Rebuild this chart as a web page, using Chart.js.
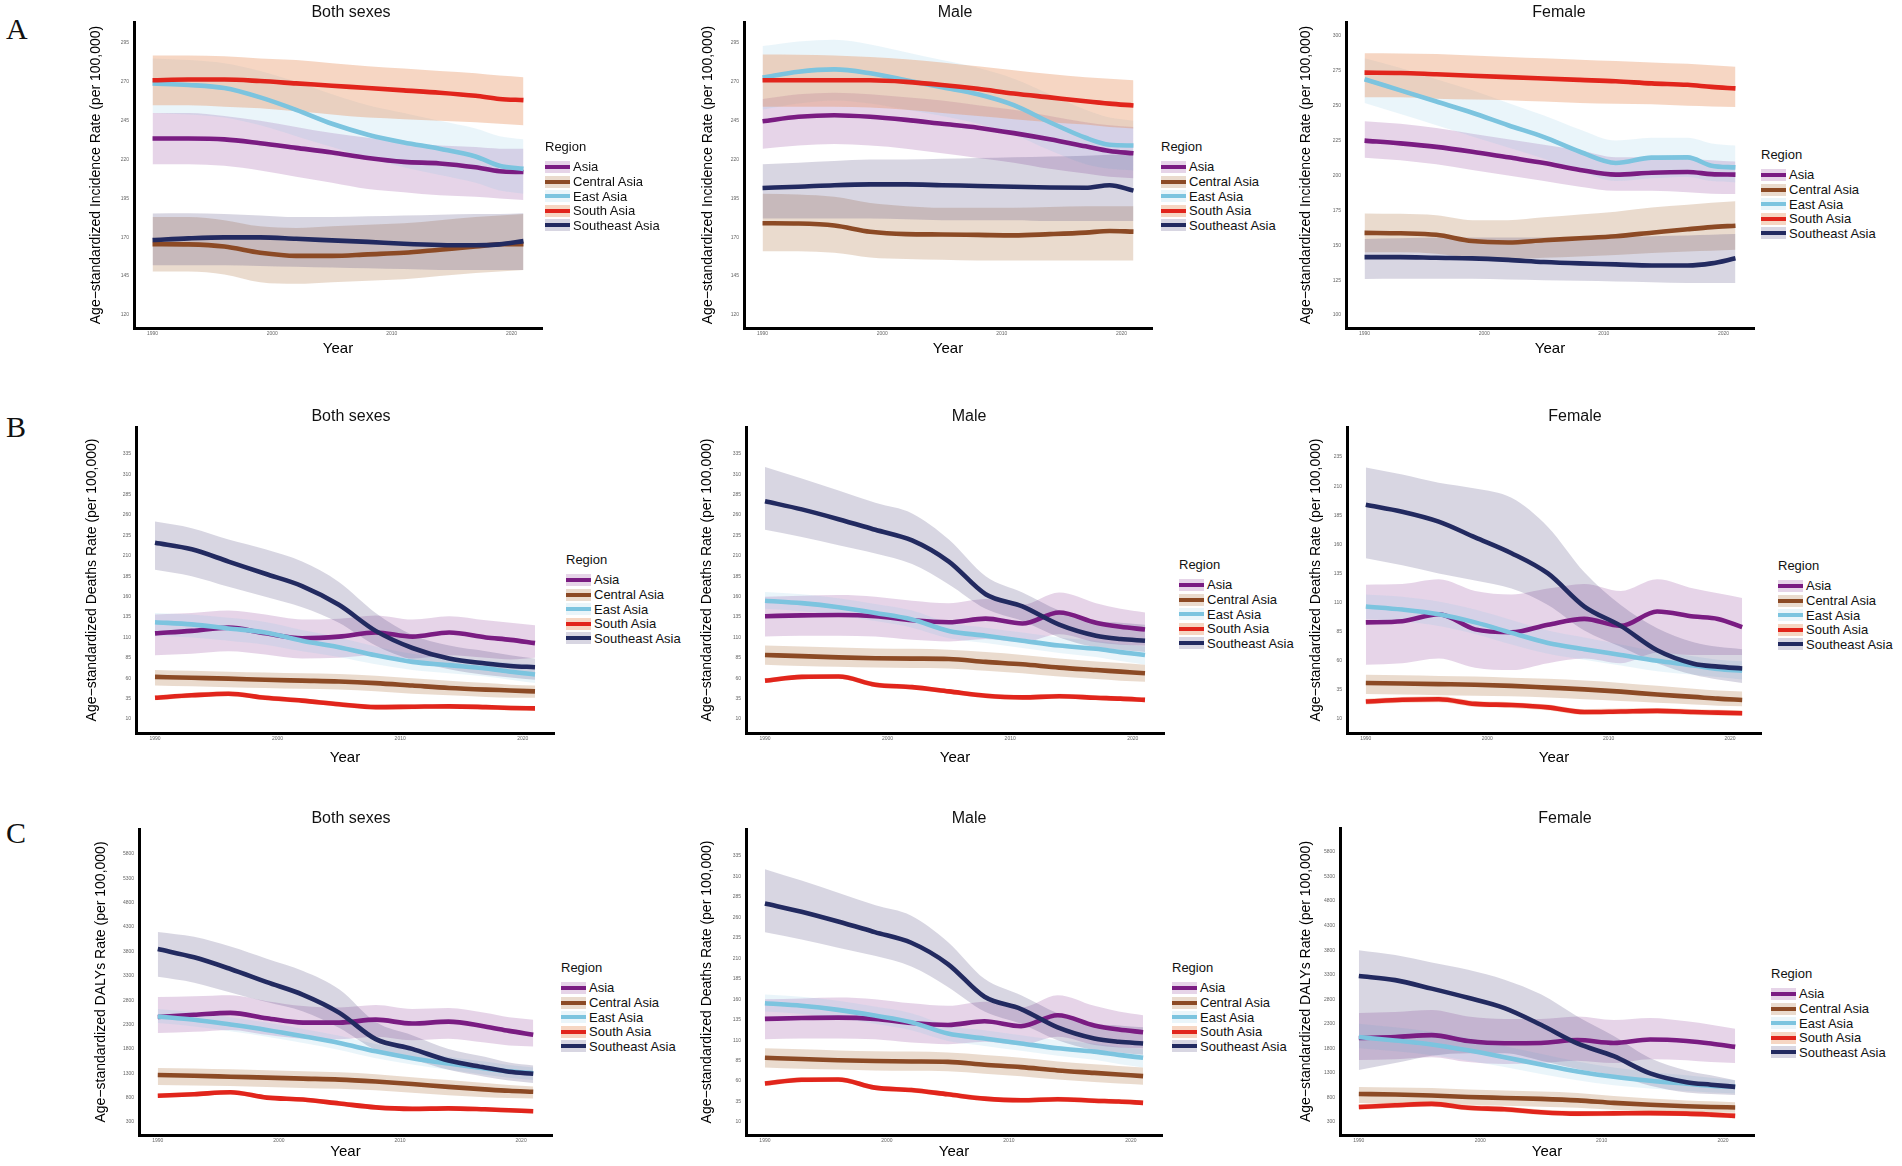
<!DOCTYPE html>
<html lang="en">
<head>
<meta charset="UTF-8">
<title>Age-standardized rates by region, Asia 1990-2021</title>
<script src="https://cdn.jsdelivr.net/npm/chart.js@4"></script>
<style>
    body { margin: 0; background: #fff; font-family: "Liberation Sans", Arial, sans-serif; }
    #page { position: relative; width: 1902px; height: 1166px; overflow: hidden; }
    .panel { position: absolute; }
    .letter { position: absolute; font-family: "Liberation Serif", serif; font-size: 30px; line-height: 30px; color: #111; }
    .ptitle { position: absolute; font-size: 16px; line-height: 18px; transform: translateX(-50%); white-space: nowrap; color: #111; }
    .legend { position: absolute; font-size: 13px; color: #111; }
    .legend .lt { line-height: 16px; margin-bottom: 4.7px; }
    .legend .item { display: flex; align-items: center; height: 14.6px; white-space: nowrap; }
    .legend .key { position: relative; width: 25px; height: 12px; margin-right: 3px; }
    .legend .key i { position: absolute; left: 0; right: 0; top: 4px; height: 4px; }
</style>
</head>
<body>
<div id="page"></div>
<script>
// ---- data ----
const REGIONS = ['Asia', 'Central Asia', 'East Asia', 'South Asia', 'Southeast Asia'];
const YEARS = [1990, 1993, 1996, 1999, 2002, 2005, 2008, 2011, 2014, 2017, 2019, 2021];
const X_TICKS = [1990, 2000, 2010, 2020];

const INC_TICKS = [120, 145, 170, 195, 220, 245, 270, 295];
const INC_F_TICKS = [100, 125, 150, 175, 200, 225, 250, 275, 300];
const DEATH_TICKS = [10, 35, 60, 85, 110, 135, 160, 185, 210, 235, 260, 285, 310, 335];
const DEATH_F_TICKS = [10, 35, 60, 85, 110, 135, 160, 185, 210, 235];
const DALY_TICKS = [300, 800, 1300, 1800, 2300, 2800, 3300, 3800, 4300, 4800, 5300, 5800];

// rows follow REGIONS order
const incBothMid = [
    [233.5, 233.5, 233, 230.5, 227.5, 224.5, 221, 218.5, 217.5, 215, 212.5, 212],
    [165.6, 165.4, 164, 160, 158, 158, 159, 160, 162, 164, 165.5, 165.6],
    [268.9, 268, 266, 260, 252, 243, 236, 231, 227, 222, 216, 214],
    [271, 271.5, 271.5, 270.5, 269, 267.5, 266, 264.5, 263, 261, 259, 258.2],
    [168.2, 169.3, 169.9, 169.9, 169, 168, 167, 165.8, 165, 164.8, 165.4, 167.5]
];
const incBothLo = [
    [217, 217, 216, 213, 209, 205, 201, 199, 197, 196, 195, 194],
    [148, 148, 146, 141, 140, 141, 142, 143, 145, 147, 148, 149],
    [250, 249, 247, 242, 235, 228, 221, 215, 210, 205, 200, 198],
    [255, 255, 254, 253, 251, 249, 247, 246, 245, 244, 243, 242],
    [152, 152, 152, 151.5, 151, 150.5, 150, 149.5, 149, 149, 149, 149]
];
const incBothHi = [
    [250, 250, 248, 245, 241, 237, 234, 231, 229, 228, 227, 227],
    [183, 183, 181, 177, 176, 177, 178, 179, 181, 183, 184, 185],
    [285, 284, 282, 277, 270, 262, 255, 250, 245, 240, 235, 233],
    [287, 287, 286.5, 285, 284, 282, 280, 278.5, 277, 275.5, 274, 273],
    [185.3, 185.5, 185, 184, 183, 183, 183.5, 184, 184.5, 185, 185, 185.5]
];

const incMaleMid = [
    [244.6, 247.5, 248.5, 247.5, 245.5, 243, 240.5, 237, 233, 228.5, 225.5, 224],
    [179, 178.8, 177.5, 173.5, 172, 171.8, 171.5, 171.2, 172, 173, 174, 173.6],
    [272.7, 276.5, 278, 275.5, 271, 266.5, 262, 255, 244, 234, 229.5, 229],
    [271, 271, 271, 271, 270, 268, 265.5, 262.5, 260, 257.5, 256, 254.8],
    [201.7, 202.5, 203.5, 204, 204, 203.5, 203, 202.5, 202, 201.8, 203.5, 200]
];
const incMaleLo = [
    [227, 229, 230, 229, 227, 224, 221, 218, 214, 211, 209, 208],
    [161, 161, 160, 157, 156, 155.5, 155, 155, 155, 155, 155, 155],
    [252, 256, 258, 256, 252, 248, 243, 236, 226, 217, 214, 213],
    [254, 254, 254, 253.5, 252, 250, 248, 246, 244, 242.5, 241, 240],
    [182, 182, 182, 182, 181.5, 181, 181, 181, 180.5, 180.5, 180.5, 180.5]
];
const incMaleHi = [
    [259, 262, 263, 262, 260, 258, 255, 252, 248, 244, 242, 241],
    [198, 197.5, 196, 192, 190, 189, 189, 189, 189.5, 190, 190, 190],
    [293, 296, 297, 294, 289, 284, 279, 272, 262, 252, 247, 245],
    [287.6, 287.5, 287, 286, 284.5, 282.5, 280, 277.5, 275, 273, 272, 271],
    [217, 218, 219, 220, 220, 220.5, 221, 221.5, 222, 222.5, 223, 223.6]
];

const incFemMid = [
    [225, 223, 220.5, 217, 213, 209, 204, 200.6, 202, 202.5, 201, 200.6],
    [158.9, 158.6, 157.5, 153, 152, 153.6, 155, 156.5, 159, 161.5, 163, 164],
    [269, 261, 253, 245, 236, 227.5, 217, 209, 212.8, 213, 207, 205.8],
    [273.7, 273.5, 272.5, 271.5, 270.5, 269.5, 268.5, 267.5, 266, 265, 263.5, 262.4],
    [141.5, 141.5, 141, 140.6, 139.5, 138, 137, 136.3, 135.5, 135.5, 137, 140.6]
];
const incFemLo = [
    [212.8, 211, 208, 204, 200, 196, 192, 189, 189, 188, 187, 186.7],
    [145, 145, 144, 141, 140, 141, 142, 143, 144.5, 145.5, 146, 146.7],
    [252, 244, 236, 228, 220, 212, 203, 196, 198, 199, 196, 195],
    [256, 256, 255, 254.5, 254, 253, 252, 251.5, 251, 250, 249.5, 249],
    [125.8, 126, 126, 126, 125.5, 125, 124.5, 124, 123.5, 123, 123, 123]
];
const incFemHi = [
    [238.9, 237, 234, 230, 226, 222, 218, 213, 213, 212, 211, 210],
    [172.8, 172.5, 171.5, 168, 168, 170, 172, 174, 177, 179, 180.5, 181.5],
    [284, 277, 269, 261, 252, 243, 233, 225, 227, 227, 223, 221.5],
    [287.6, 287.5, 287, 286, 285, 284, 283, 282, 281, 280, 279, 278],
    [154.5, 155, 155.5, 155.5, 155.5, 155.5, 156, 156, 156.5, 157, 157.5, 158]
];

const deathBothMid = [
    [115, 118, 122, 115, 109, 111, 116, 111, 116, 110, 107, 103],
    [61.6, 60.5, 59.5, 58, 57, 56, 54, 51, 48, 46, 45, 43.8],
    [128.6, 126, 121, 116, 106, 98, 88, 80, 76, 72, 68, 64.6],
    [36, 39, 41, 36, 32.5, 28, 24.5, 25, 25.5, 24.5, 23.5, 23],
    [226, 218, 203, 188, 173, 150, 118, 97, 84, 78, 75, 73.5]
];
const deathBothLo = [
    [88, 90, 93, 89, 84, 85, 88, 84, 88, 85, 83, 85],
    [51, 50, 49, 48, 47, 46, 44, 41, 39, 37, 36, 36],
    [112, 110, 106, 101, 93, 86, 77, 70, 66, 62, 58, 54],
    [33, 36, 38, 33, 29.5, 25, 21.5, 22, 22.5, 21.5, 20.5, 20],
    [193, 185, 172, 160, 147, 128, 100, 82, 71, 64, 61, 58]
];
const deathBothHi = [
    [138, 140, 143, 138, 132, 133, 137, 132, 136, 131, 128, 125],
    [70, 69, 68, 67, 66, 65, 63, 60, 57, 54, 52, 51],
    [140, 138, 134, 129, 119, 110, 99, 90, 85, 81, 79, 76.5],
    [39, 42, 44, 39, 35.5, 31, 27.5, 28, 28.5, 27.5, 26.5, 26],
    [252, 244, 230, 218, 203, 178, 140, 113, 100, 93, 88, 84]
];

const deathMaleMid = [
    [136, 137, 137.5, 136, 131, 128.6, 133, 127, 140.5, 128, 123, 119.7],
    [88.4, 87, 85.5, 84.5, 84, 83.5, 80, 77, 73, 70, 68, 66],
    [155, 152, 147, 140, 132, 118, 112, 106, 100, 96, 92, 88.4],
    [57, 61.6, 62, 52, 49, 43.8, 38.5, 36.5, 37.8, 36, 35, 33.4],
    [277, 267, 255, 242, 229, 203, 163, 148, 125.6, 112, 108, 106]
];
const deathMaleLo = [
    [111, 112, 112, 111, 107, 105, 108, 104, 114, 104, 101, 100],
    [76.5, 75, 74, 73, 72.5, 72, 69, 66, 62, 59, 57, 55.6],
    [145, 142, 137, 130, 122, 109, 103, 97, 91, 86, 81, 76.5],
    [54, 58.6, 59, 49, 46, 40.8, 35.5, 33.5, 34.8, 33, 32, 30.4],
    [242, 233, 223, 213, 200, 175, 145, 130, 110, 98, 95, 92]
];
const deathMaleHi = [
    [160, 161, 162, 160, 155, 152, 157, 150, 165, 152, 145, 140.5],
    [100, 99, 97.5, 96.5, 96, 95, 92, 88.5, 84, 80.5, 78.5, 76.5],
    [165.8, 163, 158, 151, 143, 128, 122, 116, 110, 106, 102, 98.8],
    [60, 64.6, 65, 55, 52, 46.8, 41.5, 39.5, 40.8, 39, 38, 36.4],
    [319, 305, 290, 275, 262, 230, 185, 165, 143, 130, 128, 125.6]
];

const deathFemMid = [
    [93, 94, 100, 87, 84.5, 91, 96, 90, 102.4, 98, 96, 88.9],
    [41, 40.5, 40, 39.5, 38.5, 37, 35.5, 33.5, 31, 29, 27.5, 26.4],
    [106.6, 104, 100, 93, 84, 75.3, 70, 65, 60, 56, 53, 51.4],
    [25, 26.5, 27, 23, 22, 20, 16, 16.5, 17, 16, 15.5, 15],
    [194, 188, 179.5, 166, 152.4, 135, 106.6, 90, 69, 57.5, 55, 53.4]
];
const deathFemLo = [
    [56.6, 58, 62, 54, 52, 58, 62, 58, 67, 65, 65, 65],
    [31.5, 31, 30.5, 30, 29.5, 28.5, 27, 25.5, 24, 22.5, 21.5, 21],
    [96, 94, 90, 83, 74, 66, 61, 56, 51, 48, 46, 44],
    [22.5, 24, 24.5, 20.5, 19.5, 17.5, 13.5, 14, 14.5, 13.5, 13, 12.5],
    [148, 142, 135, 129, 122, 108, 86, 72, 58, 48, 44, 41]
];
const deathFemHi = [
    [125.4, 126, 130, 120, 117, 122, 126, 120, 130, 122, 118, 114],
    [48, 47.5, 47, 46.5, 45.5, 44.5, 43, 41, 38.5, 36, 34.5, 33.6],
    [117, 115, 111, 104, 95, 86, 80, 74, 68, 64, 61, 59.7],
    [27.5, 29, 29.5, 25.5, 24.5, 22.5, 18.5, 19, 19.5, 18.5, 18, 17.5],
    [226, 220, 213, 208, 200, 175, 136, 108, 88, 76, 72, 70]
];

const dalyBothMid = [
    [2455, 2500, 2540, 2430, 2340, 2340, 2400, 2320, 2360, 2260, 2170, 2090],
    [1264, 1250, 1230, 1210, 1190, 1170, 1130, 1080, 1020, 970, 940, 920],
    [2466, 2400, 2300, 2190, 2060, 1920, 1750, 1610, 1500, 1400, 1340, 1300],
    [840, 870, 910, 800, 760, 680, 600, 570, 580, 560, 540, 520],
    [3850, 3680, 3440, 3170, 2910, 2540, 2000, 1800, 1560, 1420, 1330, 1290]
];
const dalyBothLo = [
    [2126, 2150, 2190, 2090, 2010, 2000, 2050, 1980, 2010, 1930, 1870, 1850],
    [1060, 1050, 1040, 1020, 1000, 980, 950, 900, 850, 810, 790, 780],
    [2330, 2260, 2160, 2050, 1920, 1780, 1610, 1480, 1370, 1270, 1210, 1160],
    [795, 825, 865, 755, 715, 635, 555, 525, 535, 515, 495, 475],
    [3280, 3160, 2960, 2760, 2570, 2230, 1780, 1580, 1370, 1230, 1150, 1100]
];
const dalyBothHi = [
    [2865, 2880, 2900, 2780, 2680, 2650, 2700, 2620, 2640, 2540, 2450, 2400],
    [1408, 1400, 1380, 1360, 1340, 1320, 1280, 1220, 1160, 1100, 1060, 1030],
    [2620, 2550, 2450, 2340, 2210, 2070, 1900, 1760, 1640, 1540, 1470, 1420],
    [885, 915, 955, 845, 805, 725, 645, 615, 625, 605, 585, 565],
    [4200, 4100, 3900, 3650, 3400, 3020, 2350, 2080, 1800, 1640, 1520, 1460]
];

const dalyFemMid = [
    [2011, 2030, 2070, 1950, 1905, 1910, 1970, 1910, 1980, 1950, 1900, 1830],
    [870, 860, 840, 810, 790, 770, 740, 690, 650, 620, 605, 596],
    [2030, 1960, 1880, 1760, 1620, 1470, 1330, 1220, 1140, 1080, 1040, 1016],
    [605, 640, 670, 590, 560, 500, 470, 475, 480, 470, 450, 424],
    [3274, 3190, 3017, 2830, 2620, 2280, 1900, 1640, 1290, 1110, 1060, 1016]
];
const dalyFemLo = [
    [1563, 1580, 1620, 1520, 1480, 1500, 1550, 1500, 1580, 1560, 1520, 1500],
    [687, 680, 670, 650, 630, 610, 590, 550, 520, 500, 495, 490],
    [1800, 1740, 1660, 1550, 1420, 1280, 1150, 1050, 980, 930, 900, 880],
    [550, 585, 615, 535, 505, 445, 415, 420, 425, 415, 395, 370],
    [1360, 1500, 1650, 1700, 1700, 1550, 1380, 1250, 1040, 900, 870, 850]
];
const dalyFemHi = [
    [2520, 2540, 2580, 2450, 2400, 2400, 2450, 2380, 2420, 2350, 2280, 2200],
    [1013, 1005, 990, 960, 940, 920, 890, 830, 780, 740, 720, 700],
    [2300, 2230, 2140, 2010, 1850, 1690, 1530, 1410, 1320, 1250, 1200, 1150],
    [660, 695, 725, 645, 615, 555, 525, 530, 535, 525, 505, 480],
    [3800, 3700, 3550, 3400, 3200, 2900, 2450, 2050, 1600, 1350, 1250, 1150]
];

// ---- styles ----
const LINE_COLORS = ['#7a1c82', '#8c4a25', '#7cc4df', '#e1251c', '#222a60'];
const BAND_COLORS = ['rgba(140,60,150,0.22)', 'rgba(170,110,60,0.25)', 'rgba(130,195,225,0.17)',
                     'rgba(230,140,90,0.36)', 'rgba(60,50,110,0.20)'];

const INC_T = 'Age\u2212standardized Incidence Rate (per 100,000)';
const DEATH_T = 'Age\u2212standardized Deaths Rate (per 100,000)';
const DALY_T = 'Age\u2212standardized DALYs Rate (per 100,000)';

// box = [plot left, plot top, plot right, plot bottom]
const PANELS = [
    { title: 'Both sexes', ytitle: INC_T, mid: incBothMid, lo: incBothLo, hi: incBothHi, ticks: INC_TICKS,
      ymin: 111.6, ymax: 308.5, box: [134, 22, 542, 328], ytx: 96, yearY: 349, tx: 351, ty: 12, leg: [545, 147] },
    { title: 'Male', ytitle: INC_T, mid: incMaleMid, lo: incMaleLo, hi: incMaleHi, ticks: INC_TICKS,
      ymin: 111.6, ymax: 308.5, box: [744, 22, 1152, 328], ytx: 708, yearY: 349, tx: 955, ty: 12, leg: [1161, 147] },
    { title: 'Female', ytitle: INC_T, mid: incFemMid, lo: incFemLo, hi: incFemHi, ticks: INC_F_TICKS,
      ymin: 90.7, ymax: 310, box: [1346, 22, 1754, 328], ytx: 1306, yearY: 349, tx: 1559, ty: 12, leg: [1761, 155] },
    { title: 'Both sexes', ytitle: DEATH_T, mid: deathBothMid, lo: deathBothLo, hi: deathBothHi, ticks: DEATH_TICKS,
      ymin: -7.2, ymax: 368, box: [136, 427, 554, 733], ytx: 92, yearY: 758, tx: 351, ty: 416, leg: [566, 560] },
    { title: 'Male', ytitle: DEATH_T, mid: deathMaleMid, lo: deathMaleLo, hi: deathMaleHi, ticks: DEATH_TICKS,
      ymin: -7.2, ymax: 368, box: [746, 427, 1164, 733], ytx: 707, yearY: 758, tx: 969, ty: 416, leg: [1179, 565] },
    { title: 'Female', ytitle: DEATH_T, mid: deathFemMid, lo: deathFemLo, hi: deathFemHi, ticks: DEATH_F_TICKS,
      ymin: -2, ymax: 260.8, box: [1347, 427, 1761, 733], ytx: 1316, yearY: 758, tx: 1575, ty: 416, leg: [1778, 566] },
    { title: 'Both sexes', ytitle: DALY_T, mid: dalyBothMid, lo: dalyBothLo, hi: dalyBothHi, ticks: DALY_TICKS,
      ymin: 33, ymax: 6313, box: [139, 829, 552, 1135], ytx: 101, yearY: 1152, tx: 351, ty: 818, leg: [561, 968] },
    { title: 'Male', ytitle: DEATH_T, mid: deathMaleMid, lo: deathMaleLo, hi: deathMaleHi, ticks: DEATH_TICKS,
      ymin: -5.9, ymax: 368, box: [746, 829, 1162, 1135], ytx: 707, yearY: 1152, tx: 969, ty: 818, leg: [1172, 968] },
    { title: 'Female', ytitle: DALY_T, mid: dalyFemMid, lo: dalyFemLo, hi: dalyFemHi, ticks: DALY_TICKS,
      ymin: 35, ymax: 6289, box: [1340, 828, 1754, 1135], ytx: 1306, yearY: 1152, tx: 1565, ty: 818, leg: [1771, 974] }
];

const LETTERS = [['A', 6, 14], ['B', 6, 412], ['C', 6, 818]];

const page = document.getElementById('page');

function points(values) {
    return YEARS.map((y, i) => ({ x: y, y: values[i] }));
}

function makePanel(p) {
    const [PL, PT, PR, PB] = p.box;
    const CL = Math.round(p.ytx - 8.4);
    const CT = PT - 10;
    const CR = PR + 6;
    const CB = Math.round(p.yearY + 9);

    const wrap = document.createElement('div');
    wrap.className = 'panel';
    wrap.style.left = CL + 'px';
    wrap.style.top = CT + 'px';
    const cv = document.createElement('canvas');
    cv.width = CR - CL;
    cv.height = CB - CT;
    cv.style.width = (CR - CL) + 'px';
    cv.style.height = (CB - CT) + 'px';
    wrap.appendChild(cv);
    page.appendChild(wrap);

    // lines first (drawn on top), Southeast Asia topmost
    const datasets = [];
    for (let i = REGIONS.length - 1; i >= 0; i--) {
        datasets.push({
            label: REGIONS[i], data: points(p.mid[i]), borderColor: LINE_COLORS[i], borderWidth: 4.6,
            pointRadius: 0, fill: false, cubicInterpolationMode: 'monotone', borderCapStyle: 'butt'
        });
    }
    // uncertainty bands underneath
    for (let i = REGIONS.length - 1; i >= 0; i--) {
        datasets.push({
            label: REGIONS[i] + ' upper', data: points(p.hi[i]), borderWidth: 0, pointRadius: 0,
            fill: false, cubicInterpolationMode: 'monotone'
        });
        datasets.push({
            label: REGIONS[i] + ' lower', data: points(p.lo[i]), borderWidth: 0, pointRadius: 0,
            fill: '-1', backgroundColor: BAND_COLORS[i], cubicInterpolationMode: 'monotone'
        });
    }

    new Chart(cv, {
        type: 'line',
        data: { datasets },
        options: {
            responsive: false,
            animation: false,
            events: [],
            layout: { padding: { top: 10, right: 6, left: 0, bottom: 0 } },
            plugins: { legend: { display: false }, tooltip: { enabled: false } },
            scales: {
                x: {
                    type: 'linear', min: 1988.45, max: 2022.55,
                    grid: { display: false, drawTicks: false },
                    border: { display: true, color: '#000', width: 3 },
                    ticks: { font: { size: 5 }, color: '#666', padding: 3, maxRotation: 0, autoSkip: false,
                             callback: v => String(v) },
                    afterBuildTicks: s => { s.ticks = X_TICKS.map(v => ({ value: v })); },
                    afterFit: s => { s.height = CB - PB; },
                    title: { display: true, text: 'Year', font: { size: 15 }, color: '#000', padding: { top: 0, bottom: 0 } }
                },
                y: {
                    type: 'linear', min: p.ymin, max: p.ymax,
                    grid: { display: false, drawTicks: false },
                    border: { display: true, color: '#000', width: 3 },
                    ticks: { font: { size: 5 }, color: '#666', padding: 5, autoSkip: false,
                             callback: v => String(v) },
                    afterBuildTicks: s => { s.ticks = p.ticks.map(v => ({ value: v })); },
                    afterFit: s => { s.width = PL - CL; },
                    title: { display: true, text: p.ytitle, font: { size: 14 }, color: '#000', padding: { top: 0, bottom: 0 } }
                }
            }
        }
    });

    const t = document.createElement('div');
    t.className = 'ptitle';
    t.style.left = p.tx + 'px';
    t.style.top = (p.ty - 9) + 'px';
    t.textContent = p.title;
    page.appendChild(t);

    const lg = document.createElement('div');
    lg.className = 'legend';
    lg.style.left = p.leg[0] + 'px';
    lg.style.top = (p.leg[1] - 8) + 'px';
    lg.innerHTML = '<div class="lt">Region</div>' + REGIONS.map((r, i) =>
        `<div class="item"><span class="key" style="background:${BAND_COLORS[i]}"><i style="background:${LINE_COLORS[i]}"></i></span>${r}</div>`
    ).join('');
    page.appendChild(lg);
}

PANELS.forEach(makePanel);

LETTERS.forEach(([txt, x, y]) => {
    const d = document.createElement('div');
    d.className = 'letter';
    d.style.left = x + 'px';
    d.style.top = y + 'px';
    d.textContent = txt;
    page.appendChild(d);
});
</script>
</body>
</html>
